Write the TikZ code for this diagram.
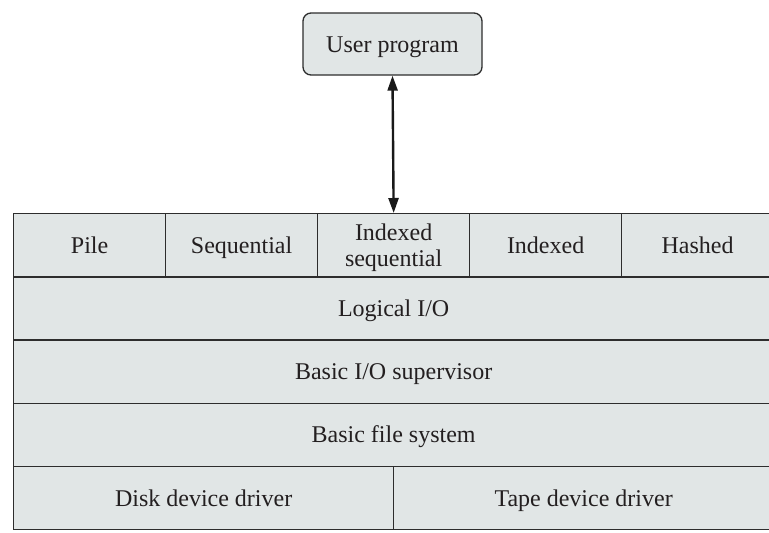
\documentclass[tikz,border=0pt]{standalone}
\usepackage{fontspec}
\setmainfont{Liberation Serif}
\usetikzlibrary{arrows.meta}
\definecolor{cellfill}{RGB}{225,230,230}
\definecolor{linecol}{RGB}{45,45,45}
\definecolor{txtcol}{RGB}{35,31,32}
\tikzset{
  cell/.style={draw=linecol, line width=1.3pt, fill=cellfill, rectangle, anchor=north west,
    minimum height=63.2pt, inner sep=0pt, text=txtcol, align=center,
    text height=16pt, text depth=0pt,
    font=\fontsize{24}{26}\selectfont},
  userbox/.style={draw=linecol, line width=1.3pt, fill=cellfill, rounded corners=8pt,
    minimum width=179pt, minimum height=62pt, inner sep=0pt, text=txtcol,
    text height=16pt, text depth=0pt,
    font=\fontsize{24}{26}\selectfont},
  biarrow/.style={line width=2.4pt, draw=black!90, {Triangle[width=10pt,length=15pt]}-{Triangle[width=10pt,length=15pt]}}
}
\begin{document}
\begin{tikzpicture}[x=1pt,y=-1pt]
\useasboundingbox (0,0) rectangle (769,533);
\clip (0,0) rectangle (769,533);
\node[userbox] (user) at (392.5,44) {User program};
% top row
\node[cell, minimum width=152pt] (pile) at (13,213) {Pile};
\node[cell, minimum width=152pt] (seq) at (165,213) {Sequential};
\node[cell, minimum width=152pt, text height=42pt] (iseq) at (317,213) {Indexed\\sequential};
\node[cell, minimum width=152pt] (idx) at (469,213) {Indexed};
\node[cell, minimum width=152pt] (hash) at (621,213) {Hashed};
% full rows
\node[cell, minimum width=760pt] (lio) at (13,276.2) {Logical I/O};
\node[cell, minimum width=760pt] (bio) at (13,339.4) {Basic I/O supervisor};
\node[cell, minimum width=760pt] (bfs) at (13,402.6) {Basic file system};
% bottom row
\node[cell, minimum width=380pt] (disk) at (13,465.8) {Disk device driver};
\node[cell, minimum width=380pt] (tape) at (393,465.8) {Tape device driver};
% arrow
\draw[biarrow] (user.south) -- (iseq.north);
\end{tikzpicture}
\end{document}
